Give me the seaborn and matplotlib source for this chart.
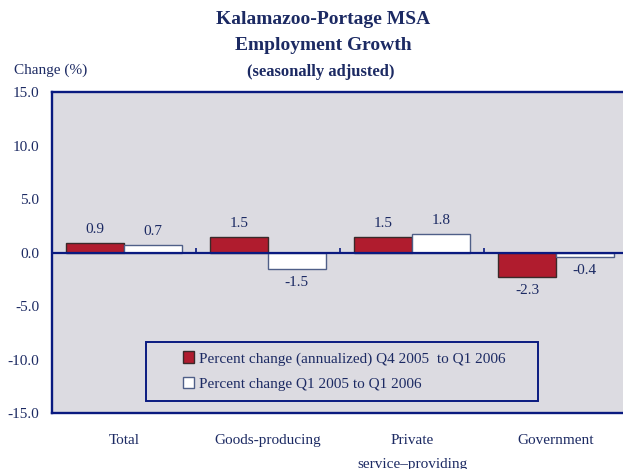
import numpy as np
import pandas as pd
import matplotlib
matplotlib.use('Agg')
import matplotlib.pyplot as plt
import matplotlib.transforms as mtransforms
import seaborn as sns
from matplotlib.patches import Rectangle

# data
categories = ['Total', 'Goods-producing', 'Private\nservice\u2013providing', 'Government']
series_names = ['Percent change (annualized) Q4 2005  to Q1 2006',
                'Percent change Q1 2005 to Q1 2006']
quarter_change = [0.9, 1.5, 1.5, -2.3]
year_change = [0.7, -1.5, 1.8, -0.4]
y_ticks = [15.0, 10.0, 5.0, 0.0, -5.0, -10.0, -15.0]

df = pd.DataFrame({
    'category': categories * 2,
    'series': [series_names[0]] * 4 + [series_names[1]] * 4,
    'value': quarter_change + year_change,
})

navy = '#1c2a63'
axis_blue = '#0a1a80'
red = '#b01c2e'
bg = '#dcdbe1'

sns.set_theme(style='white')
plt.rcParams['font.family'] = ['Liberation Serif', 'DejaVu Serif']

fig = plt.figure(figsize=(6.23, 4.69), dpi=100)
ax = fig.add_axes([52 / 623, 1 - 413 / 469, 576 / 623, 320.5 / 469])
ax.set_facecolor(bg)

sns.barplot(data=df, x='category', y='value', hue='series',
            palette={series_names[0]: red, series_names[1]: 'white'},
            width=0.8, saturation=1, ax=ax, legend=False)

edge_colors = ['#3a2a2a', '#4f5f88']
for cont, ec in zip(ax.containers, edge_colors):
    for p in cont.patches:
        p.set_edgecolor(ec)
        p.set_linewidth(1.0)
    ax.bar_label(cont, fmt='%.1f', padding=5, fontsize=11, color=navy)

ax.set_xlim(-0.5, 3.5)
ax.set_ylim(-15, 15)
ax.set_yticks(y_ticks)
ax.set_yticklabels([f'{v:.1f}' for v in y_ticks], fontsize=11, color=navy)
ax.set_xticks([])
ax.tick_params(axis='y', direction='in', length=4, width=1, color=axis_blue, pad=9)
ax.set_xlabel('')
ax.set_ylabel('')

# category labels below the frame
trans = mtransforms.blended_transform_factory(ax.transData, fig.transFigure)
for i, cat in enumerate(categories):
    ax.text(i, 1 - 434 / 469, cat, transform=trans, ha='center', va='top',
            fontsize=11, color=navy, linespacing=2.05)

for side in ['left', 'top', 'bottom']:
    ax.spines[side].set_color(axis_blue)
    ax.spines[side].set_linewidth(1.7)
ax.spines['right'].set_visible(False)

# zero line with small category separator ticks
ax.axhline(0, color=axis_blue, lw=1.6, zorder=3)
ax.vlines([0.5, 1.5, 2.5], 0, 0.45, color=axis_blue, lw=1.2, zorder=3)

# legend with separate frame
ax.add_patch(Rectangle((94 / 576, 12 / 320.5), 391.5 / 576, 59.5 / 320.5,
                       transform=ax.transAxes, facecolor=bg, edgecolor=axis_blue,
                       lw=1.4, zorder=4))
leg = ax.legend(ax.containers, series_names, loc='center left',
                bbox_to_anchor=(123 / 576, 42 / 320.5), frameon=False,
                fontsize=11, handlelength=0.75, handleheight=0.75,
                handletextpad=0.35, labelspacing=0.72, borderpad=0)
leg.set_zorder(5)
for t in leg.get_texts():
    t.set_color(navy)

fig.text(323 / 623, 1 - 19 / 469, 'Kalamazoo-Portage MSA', ha='center', va='center',
         fontsize=14, fontweight='bold', color=navy)
fig.text(323 / 623, 1 - 46 / 469, 'Employment Growth', ha='center', va='center',
         fontsize=14, fontweight='bold', color=navy)
fig.text(321 / 623, 1 - 72 / 469, '(seasonally adjusted)', ha='center', va='center',
         fontsize=12, fontweight='bold', color=navy)
fig.text(14 / 623, 1 - 70 / 469, 'Change (%)', ha='left', va='center',
         fontsize=11, color=navy)

fig.savefig('out.png', dpi=100, facecolor='white')
